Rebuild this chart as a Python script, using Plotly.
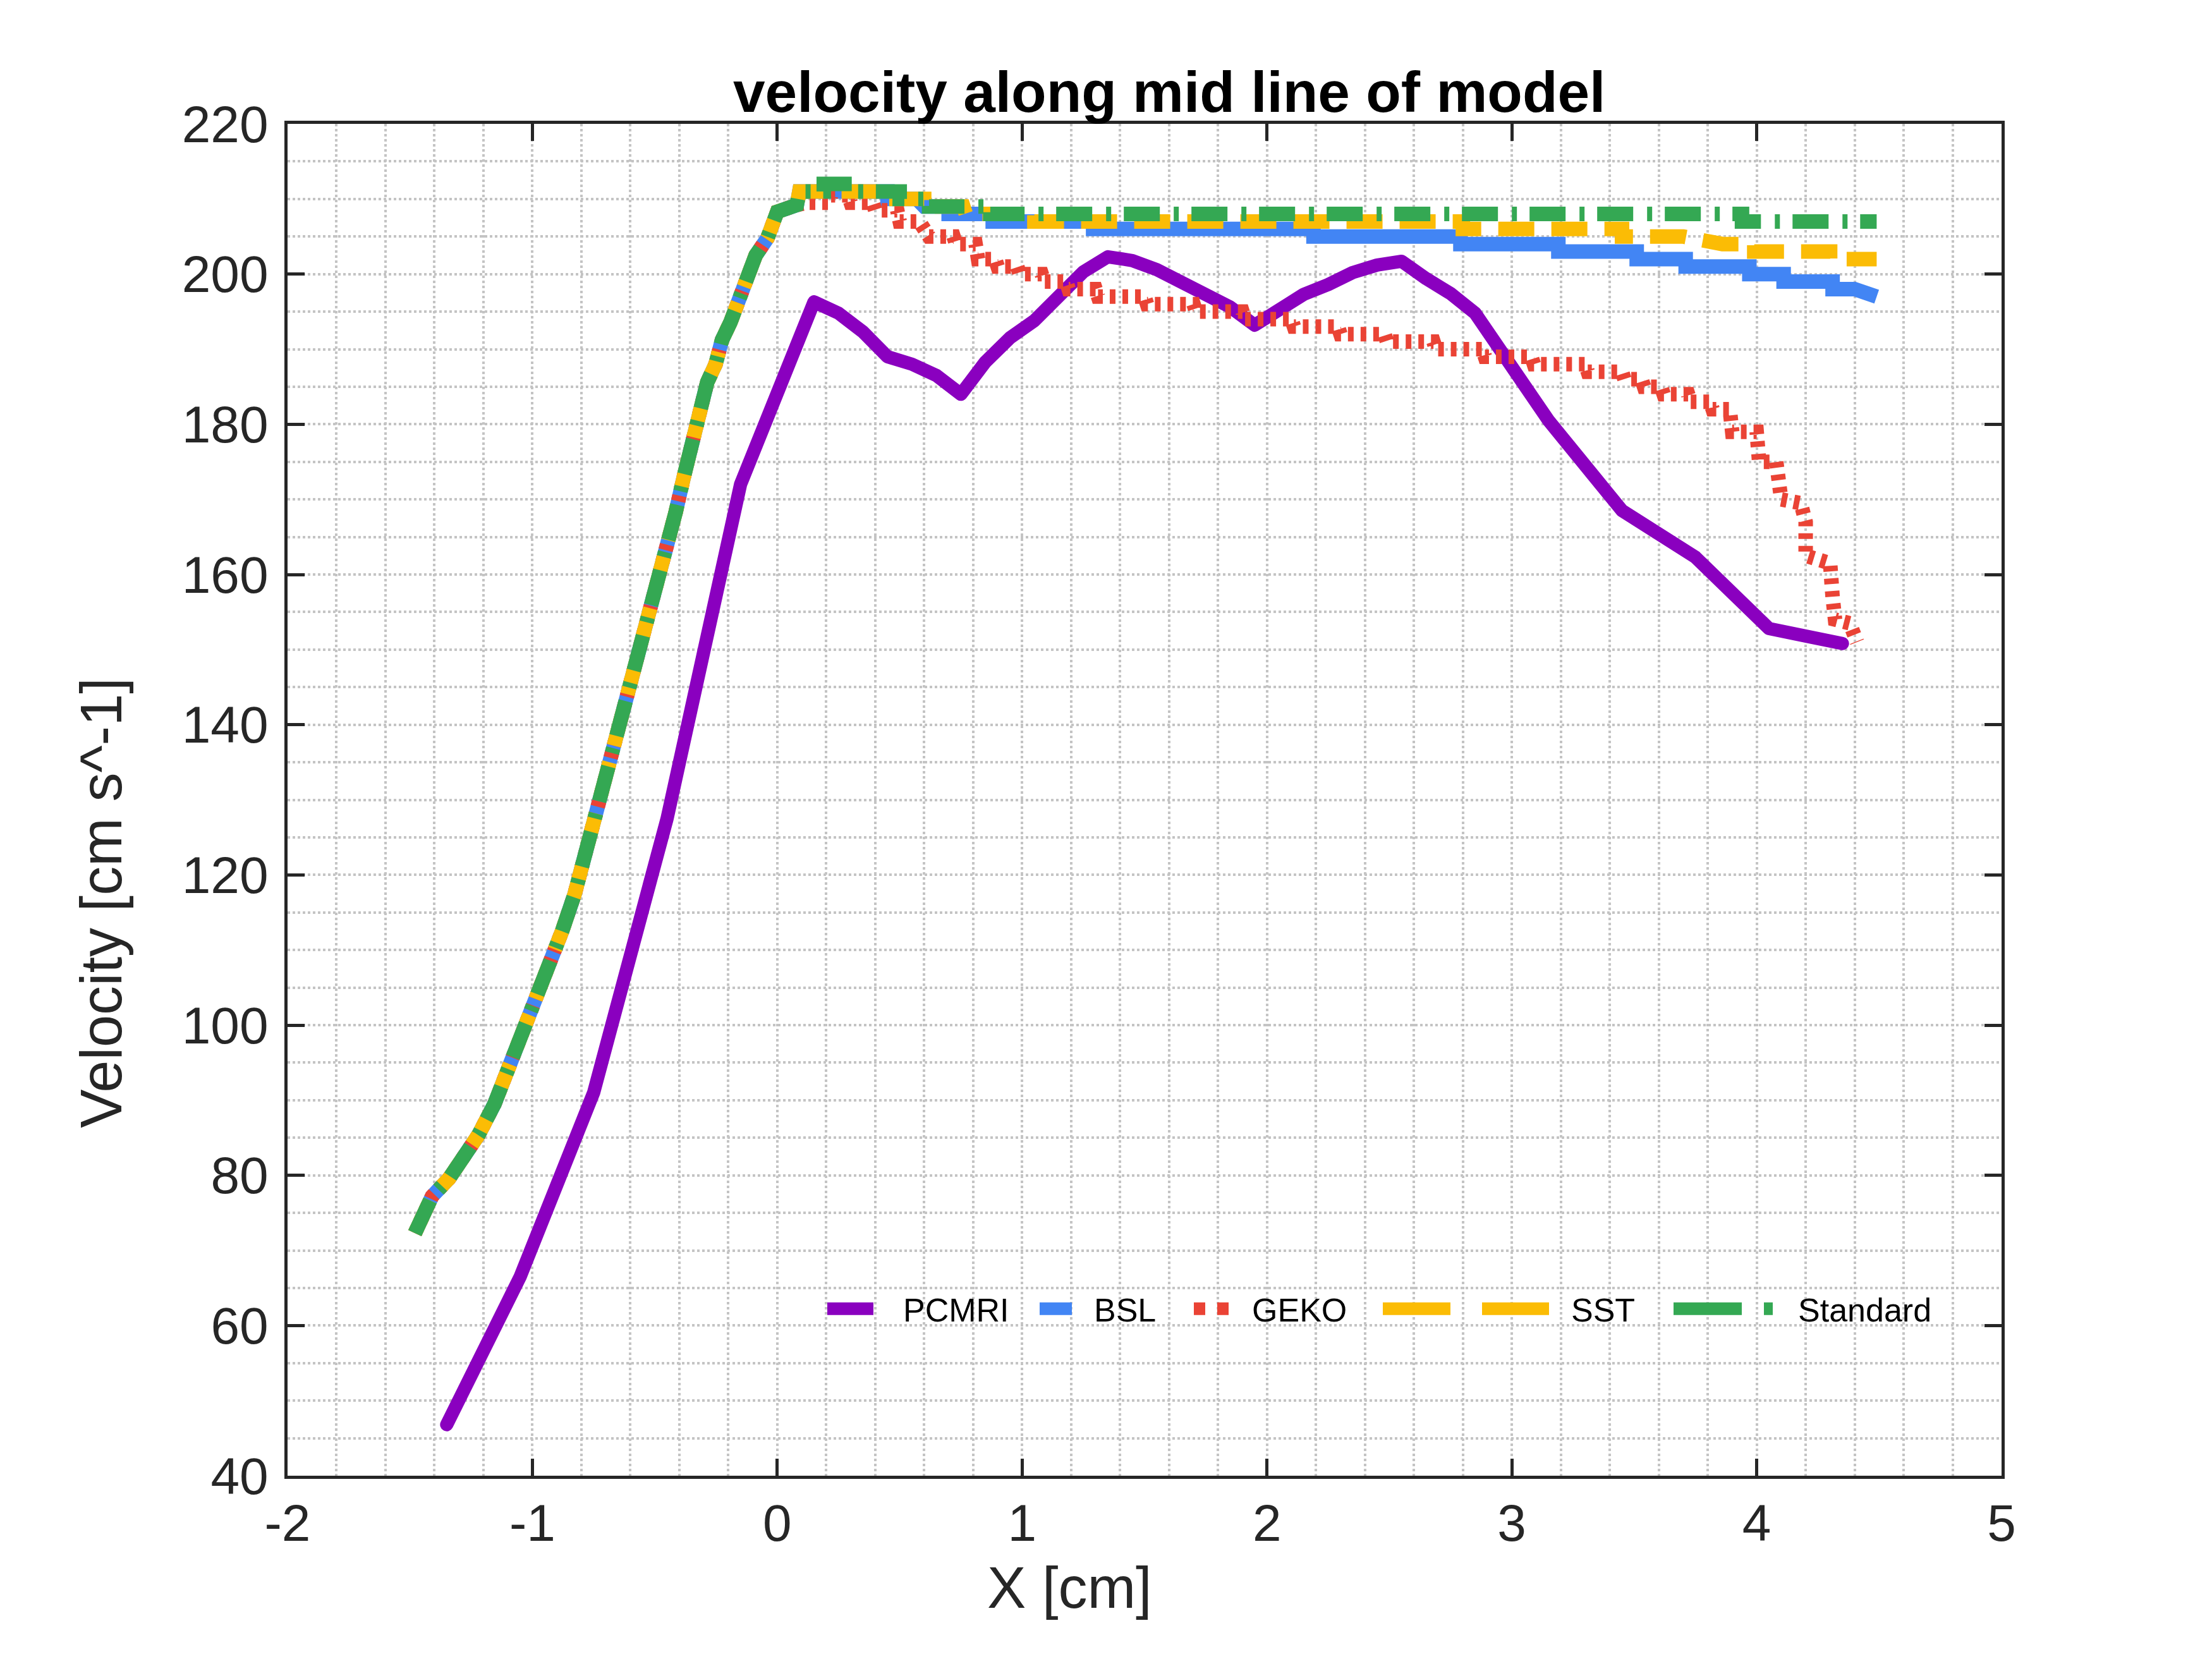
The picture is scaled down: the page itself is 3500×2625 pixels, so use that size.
import plotly.graph_objects as go

# ---------------- data ----------------
# PCMRI measurement
x_pcmri = [-1.35, -1.05, -0.75, -0.45, -0.15, 0.15, 0.25, 0.35, 0.45, 0.55, 0.65, 0.75,
           0.85, 0.95, 1.05, 1.15, 1.25, 1.35, 1.45, 1.55, 1.65, 1.75, 1.85, 1.95,
           2.05, 2.15, 2.25, 2.35, 2.45, 2.55, 2.65, 2.75, 2.85, 3.15, 3.45, 3.75, 4.05, 4.35]
v_pcmri = [46.8, 66.5, 91.0, 127.5, 172.0, 196.3, 194.8, 192.3, 189.0, 188.0, 186.5, 184.0,
           188.3, 191.5, 193.8, 197.2, 200.3, 202.3, 201.8, 200.6, 198.8, 197.3, 195.6, 193.2,
           195.3, 197.3, 198.6, 200.2, 201.2, 201.7, 199.4, 197.4, 194.8, 180.5, 168.5, 162.3, 152.8, 150.8]

# common rising part of the four CFD models
x_rise = [-1.48, -1.44, -1.41, -1.34, -1.27, -1.22, -1.155, -1.095, -1.034, -0.983, -0.931,
          -0.879, -0.828, -0.794, -0.759, -0.716, -0.673, -0.643, -0.604, -0.561, -0.518,
          -0.475, -0.449, -0.415, -0.381, -0.346, -0.312, -0.286, -0.252, -0.226, -0.191,
          -0.157, -0.123, -0.088, -0.04, 0.0, 0.08]
v_rise = [72.3, 75.0, 77.2, 79.6, 83.0, 85.4, 89.5, 94.4, 98.9, 103.1, 107.6,
          112.5, 117.4, 121.6, 125.8, 130.3, 134.8, 140.2, 144.1, 149.3, 154.2,
          160.2, 164.2, 168.3, 173.1, 177.9, 181.1, 185.6, 188.0, 191.2, 193.6,
          196.9, 199.3, 202.5, 204.8, 208.3, 209.2]

# BSL plateau
x_bsl = [0.09, 0.45, 0.45, 0.57, 0.60, 0.70, 0.70, 0.88, 0.88, 1.29, 1.29, 2.19, 2.19, 2.79,
         2.79, 3.19, 3.19, 3.51, 3.51, 3.71, 3.71, 3.97, 3.97, 4.11, 4.11, 4.31, 4.31, 4.40, 4.49]
v_bsl = [211, 211, 210, 210, 209, 209, 208, 208, 207, 207, 206, 206, 205, 205,
         204, 204, 203, 203, 202, 202, 201, 201, 200, 200, 199, 199, 198, 198, 197]

# GEKO plateau / decline
x_geko = [0.12, 0.21, 0.22, 0.29, 0.30, 0.39, 0.40, 0.49, 0.50, 0.58, 0.62, 0.72, 0.73, 0.81,
          0.82, 0.89, 0.90, 0.98, 0.99, 1.08, 1.09, 1.18, 1.19, 1.30, 1.31, 1.50, 1.51, 1.70,
          1.71, 1.90, 1.91, 2.10, 2.11, 2.29, 2.30, 2.48, 2.49, 2.68, 2.69, 2.88, 2.89, 3.08,
          3.09, 3.30, 3.31, 3.45, 3.46, 3.53, 3.54, 3.61, 3.62, 3.72, 3.73, 3.81, 3.82, 3.89,
          3.90, 4.00, 4.01, 4.08, 4.09, 4.10, 4.18, 4.20, 4.20, 4.30, 4.31, 4.32, 4.38, 4.41]
v_geko = [209.5, 209.5, 210.5, 210.5, 209.5, 209.5, 208.5, 208.5, 207.0, 207.0, 205.0, 205.0, 204.0, 204.0,
          202.0, 202.0, 201.0, 201.0, 200.0, 200.0, 199.0, 199.0, 198.0, 198.0, 197.0, 197.0, 196.0, 196.0,
          195.0, 195.0, 194.0, 194.0, 193.0, 193.0, 192.0, 192.0, 191.0, 191.0, 190.0, 190.0, 189.0, 189.0,
          188.0, 188.0, 187.0, 187.0, 186.0, 186.0, 185.0, 185.0, 184.0, 184.0, 183.0, 183.0, 182.0, 182.0,
          179.0, 179.0, 175.0, 175.0, 173.0, 170.0, 169.5, 167.0, 162.5, 161.5, 157.0, 154.0, 153.5, 151.0]

# SST plateau
x_sst = [0.09, 0.44, 0.45, 0.60, 0.60, 0.76, 0.77, 1.05, 1.05, 2.80, 2.80, 3.45, 3.45, 3.70,
         3.86, 3.99, 3.99, 4.30, 4.30, 4.49]
v_sst = [211, 211, 210, 210, 209, 209, 208, 208, 207, 207, 206, 206, 205, 205,
         204, 204, 203, 203, 202, 202]

# Standard k-epsilon plateau
x_std = [0.09, 0.19, 0.19, 0.32, 0.32, 0.50, 0.50, 0.62, 0.62, 0.87, 0.87, 3.94, 3.94, 4.49]
v_std = [211, 211, 212, 212, 211, 211, 210, 210, 209, 209, 208, 208, 207, 207]

names = ["PCMRI", "BSL", "GEKO", "SST", "Standard"]
colors = ["#8A00BF", "#4285F4", "#EA4335", "#FBBC05", "#34A853"]

x_ticks = [-2, -1, 0, 1, 2, 3, 4, 5]
x_ticktext = ["-2", "-1", "0", "1", "2", "3", "4", "5"]
y_ticks = [40, 60, 80, 100, 120, 140, 160, 180, 200, 220]
y_ticktext = [str(v) for v in y_ticks]

# ---------------- layout geometry ----------------
W, H = 3500, 2625
ML, MR, MT, MB = 455, 333, 196, 290
PW, PH = W - ML - MR, H - MT - MB


def px(xp):
    return (xp - ML) / PW


def py(yp):
    return (H - MB - yp) / PH


FONT = "Arial, Liberation Sans, Helvetica, sans-serif"
INK = "#262626"
GRID = "#c4c4c4"

# legend entry placement (pixel x of symbol start and text start), symbol length, dash
leg_ids = ["legend", "legend2", "legend3", "legend4", "legend5"]
leg_sym_x = [1309, 1645, 1889, 2188, 2648]
leg_txt_x = [1429, 1731, 1981, 2486, 2845]
leg_sym_len = [73, 51, 55, 263, 162]
leg_dash = ["none", "none", "18,19", "107,50", "108,35,14,30"]

series_x = [x_pcmri, x_rise + x_bsl, x_rise + x_geko, x_rise + x_sst, x_rise + x_std]
series_v = [v_pcmri, v_rise + v_bsl, v_rise + v_geko, v_rise + v_sst, v_rise + v_std]
widths = [21, 23, 23, 23, 23]
dashes = ["solid", "solid", "9px,11px", "57px,27px", "57px,22px,8px,20px"]

fig = go.Figure()
for i in range(5):
    fig.add_trace(go.Scatter(x=series_x[i], y=series_v[i], mode="lines", name=names[i],
                             legend=leg_ids[i],
                             line=dict(color=colors[i], width=widths[i], dash=dashes[i])))

axis_common = dict(
    showline=True, linecolor=INK, linewidth=5, mirror="ticks",
    ticks="inside", ticklen=27, tickwidth=5, tickcolor=INK,
    showgrid=True, gridcolor=GRID, gridwidth=4, griddash="dot",
    zeroline=False,
    tickfont=dict(family=FONT, size=82, color=INK),
)

fig.update_xaxes(range=[-2, 5], tickvals=x_ticks, ticktext=x_ticktext,
                 minor=dict(dtick=0.2, showgrid=True, gridcolor=GRID, gridwidth=4, griddash="dot",
                            ticks=""),
                 **axis_common)
fig.update_yaxes(range=[40, 220], tickvals=y_ticks, ticktext=y_ticktext, ticklabelstandoff=9,
                 minor=dict(dtick=5, showgrid=True, gridcolor=GRID, gridwidth=4, griddash="dot",
                            ticks=""),
                 **axis_common)

legends = {}
for i, lid in enumerate(leg_ids):
    lx = leg_sym_x[i] - 5
    legends[lid] = dict(orientation="h", x=px(lx), y=py(2071), xanchor="left", yanchor="middle",
                        font=dict(family=FONT, size=52, color="black"),
                        bgcolor="rgba(0,0,0,0)", borderwidth=0,
                        itemwidth=max(30, leg_txt_x[i] - lx - 10))

fig.update_layout(
    width=W, height=H,
    margin=dict(l=ML, r=MR, t=MT, b=MB),
    paper_bgcolor="white", plot_bgcolor="white",
    font=dict(family=FONT, color=INK),
    showlegend=True,
    annotations=[
        dict(text="<b>velocity along mid line of model</b>", x=px(1850), y=py(146),
             xref="paper", yref="paper", showarrow=False, xanchor="center", yanchor="middle",
             font=dict(family=FONT, size=91, color="black")),
        dict(text="X [cm]", x=px(1692), y=py(2512), xref="paper", yref="paper",
             showarrow=False, xanchor="center", yanchor="middle",
             font=dict(family=FONT, size=92, color=INK)),
        dict(text="Velocity [cm s^-1]", x=px(160), y=py(1429), xref="paper", yref="paper",
             showarrow=False, xanchor="center", yanchor="middle", textangle=-90,
             font=dict(family=FONT, size=92, color=INK)),
    ],
    **legends,
)

js_lens = "[" + ",".join(str(v) for v in leg_sym_len) + "]"
js_dash = "[" + ",".join('"%s"' % d for d in leg_dash) + "]"
js_ids = "[" + ",".join('"%s"' % d for d in leg_ids) + "]"
post = """
(function(){
  var gd = document.getElementById('{plot_id}');
  var ids = %s, lens = %s, dashes = %s;
  function fix(){
    if(!gd) return;
    for (var i = 0; i < ids.length; i++) {
      var paths = gd.querySelectorAll('g.' + ids[i] + ' .legendlines path');
      paths.forEach(function(p){
        p.setAttribute('d', 'M5,0h' + lens[i]);
        p.style.strokeWidth = '20px';
        p.style.strokeDasharray = dashes[i];
        p.style.strokeLinecap = 'butt';
      });
    }
    var tr = gd.querySelectorAll('.scatterlayer .trace');
    if (tr.length) {
      tr[0].querySelectorAll('path.js-line').forEach(function(p){
        p.style.strokeLinecap = 'round';
        p.style.strokeLinejoin = 'round';
      });
    }
  }
  fix();
  setTimeout(fix, 50); setTimeout(fix, 300); setTimeout(fix, 1000);
  if (gd && gd.on) { gd.on('plotly_afterplot', fix); }
})();
""" % (js_ids, js_lens, js_dash)

fig.write_html("out.html", post_script=post)
